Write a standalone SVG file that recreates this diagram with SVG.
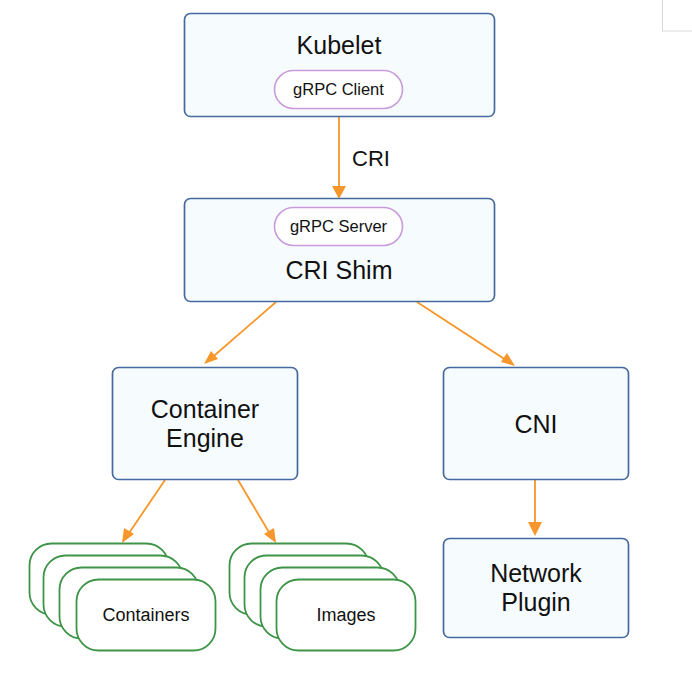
<svg xmlns="http://www.w3.org/2000/svg" width="692" height="673" viewBox="0 0 692 673">
<defs>
<style>
.box{fill:#F6FBFE;stroke:#46699F;stroke-width:1.7}
.pill{fill:#FFFFFF;stroke:#C99BDB;stroke-width:1.6}
.stk{fill:#FFFFFF;stroke:#3E9447;stroke-width:1.8}
.t{font-family:"Liberation Sans",Arial,sans-serif;fill:#111;text-anchor:middle}
.big{font-size:25px}
.sm{font-size:16.5px}
.md{font-size:18px}
.ln{stroke:#F7962A;stroke-width:1.8;fill:none}
.hd{fill:#F7962A}
</style>
</defs>
<rect width="692" height="673" fill="#FFFFFF"/>
<rect x="662.5" y="-2" width="40" height="33" fill="#FFFFFF" stroke="#D8D8D8" stroke-width="1"/>

<g id="connectors">
<path class="ln" d="M339,110 L339,190"/>
<path class="hd" d="M332,186 L339,199 L346,186 z"/>
<path class="ln" d="M276,302 L208,361"/>
<path class="hd" d="M204,364 L211,351 L218,359 z"/>
<path class="ln" d="M417,302 L512,364"/>
<path class="hd" d="M515,366 L501,362 L507,353 z"/>
<path class="ln" d="M165,480 L125,539"/>
<path class="hd" d="M122,543 L124,528 L134,534 z"/>
<path class="ln" d="M238,480 L273,539"/>
<path class="hd" d="M276,543 L264,534 L274,528 z"/>
<path class="ln" d="M535,480 L535,530"/>
<path class="hd" d="M528,522 L535,536 L542,522 z"/>
<text class="t" x="371" y="166" style="font-size:22px">CRI</text>
</g>

<g id="kubelet">
<rect class="box" x="184.5" y="13.5" width="310" height="103" rx="6"/>
<text class="t big" x="339" y="54">Kubelet</text>
<rect class="pill" x="274.5" y="70.5" width="128" height="38" rx="19"/>
<text class="t sm" x="338.5" y="95">gRPC Client</text>
</g>

<g id="crishim">
<rect class="box" x="184.5" y="198.5" width="310" height="103" rx="6"/>
<rect class="pill" x="274.5" y="207.5" width="128" height="38" rx="19"/>
<text class="t sm" x="338.5" y="232">gRPC Server</text>
<text class="t big" x="339" y="279">CRI Shim</text>
</g>

<g id="engine">
<rect class="box" x="112.5" y="367.5" width="185" height="112" rx="6"/>
<text class="t big" x="205" y="418">Container</text>
<text class="t big" x="205" y="447">Engine</text>
</g>

<g id="cni">
<rect class="box" x="443.5" y="367.5" width="185" height="112" rx="6"/>
<text class="t big" x="536" y="433">CNI</text>
</g>

<g id="network">
<rect class="box" x="443.5" y="538.5" width="185" height="99" rx="6"/>
<text class="t big" x="536" y="582">Network</text>
<text class="t big" x="536" y="611">Plugin</text>
</g>

<g id="containers">
<rect class="stk" x="29.5" y="543.5" width="139" height="71" rx="22"/>
<rect class="stk" x="43.5" y="555.5" width="139" height="71" rx="22"/>
<rect class="stk" x="59.5" y="567.5" width="139" height="71" rx="22"/>
<rect class="stk" x="76.5" y="579.5" width="139" height="71" rx="22"/>
<text class="t md" x="146" y="621">Containers</text>
</g>

<g id="images">
<rect class="stk" x="229.5" y="543.5" width="139" height="71" rx="22"/>
<rect class="stk" x="244.5" y="555.5" width="139" height="71" rx="22"/>
<rect class="stk" x="260.5" y="567.5" width="139" height="71" rx="22"/>
<rect class="stk" x="276.5" y="579.5" width="139" height="71" rx="22"/>
<text class="t md" x="346" y="621">Images</text>
</g>
</svg>
